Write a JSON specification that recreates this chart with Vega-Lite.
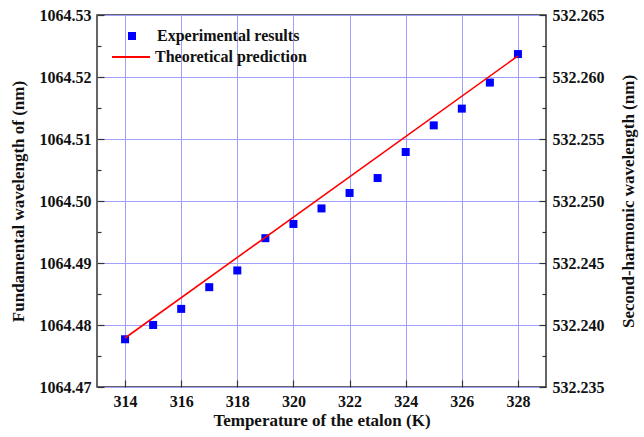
{
  "$schema": "https://vega.github.io/schema/vega-lite/v6.json",
  "width": 449,
  "height": 372,
  "autosize": {"type": "none"},
  "padding": {"left": 97, "top": 15, "right": 98, "bottom": 50},
  "background": "white",
  "config": {
    "view": {"stroke": "#333333", "strokeWidth": 1.5},
    "font": "Liberation Serif",
    "axis": {
      "labelFont": "Liberation Serif",
      "labelFontWeight": "bold",
      "labelFontSize": 16,
      "labelColor": "#111111",
      "titleFont": "Liberation Serif",
      "titleFontWeight": "bold",
      "titleFontSize": 17,
      "titleColor": "#111111",
      "domain": false,
      "tickColor": "#333333",
      "tickWidth": 1.2,
      "gridColor": "#a0a0ff",
      "gridWidth": 1
    },
    "legend": {
      "labelFont": "Liberation Serif",
      "labelFontWeight": "bold",
      "labelFontSize": 16,
      "labelColor": "#111111",
      "padding": 0
    }
  },
  "datasets": {
    "experimental": [
      {"temperature": 314, "wavelength": 1064.4777, "series": "Experimental results"},
      {"temperature": 315, "wavelength": 1064.4800, "series": "Experimental results"},
      {"temperature": 316, "wavelength": 1064.4826, "series": "Experimental results"},
      {"temperature": 317, "wavelength": 1064.4861, "series": "Experimental results"},
      {"temperature": 318, "wavelength": 1064.4888, "series": "Experimental results"},
      {"temperature": 319, "wavelength": 1064.4940, "series": "Experimental results"},
      {"temperature": 320, "wavelength": 1064.4963, "series": "Experimental results"},
      {"temperature": 321, "wavelength": 1064.4988, "series": "Experimental results"},
      {"temperature": 322, "wavelength": 1064.5013, "series": "Experimental results"},
      {"temperature": 323, "wavelength": 1064.5037, "series": "Experimental results"},
      {"temperature": 324, "wavelength": 1064.5079, "series": "Experimental results"},
      {"temperature": 325, "wavelength": 1064.5122, "series": "Experimental results"},
      {"temperature": 326, "wavelength": 1064.5149, "series": "Experimental results"},
      {"temperature": 327, "wavelength": 1064.5191, "series": "Experimental results"},
      {"temperature": 328, "wavelength": 1064.5237, "series": "Experimental results"}
    ],
    "theory": [
      {"temperature": 314, "wavelength": 1064.4779, "series": "Theoretical prediction"},
      {"temperature": 328, "wavelength": 1064.5234, "series": "Theoretical prediction"}
    ]
  },
  "layer": [
    {
      "data": {"name": "experimental"},
      "mark": {"type": "square", "size": 64, "opacity": 1, "filled": true},
      "encoding": {
        "x": {
          "field": "temperature",
          "type": "quantitative",
          "scale": {"domain": [313, 329], "nice": false, "zero": false},
          "axis": {
            "title": "Temperature of the etalon (K)",
            "values": [314, 315, 316, 317, 318, 319, 320, 321, 322, 323, 324, 325, 326, 327, 328],
            "labelExpr": "datum.value % 2 == 0 ? datum.label : ''",
            "grid": true,
            "gridOpacity": {"condition": {"test": "datum.value % 2 == 1", "value": 0}, "value": 1},
            "tickSize": {"condition": {"test": "datum.value % 2 == 1", "value": -4}, "value": -7},
            "labelPadding": 13,
            "titlePadding": 3
          }
        },
        "y": {
          "field": "wavelength",
          "type": "quantitative",
          "scale": {"domain": [1064.47, 1064.53], "nice": false, "zero": false},
          "axis": {
            "title": "Fundamental wavelength of (nm)",
            "values": [1064.47, 1064.475, 1064.48, 1064.485, 1064.49, 1064.495, 1064.5, 1064.505, 1064.51, 1064.515, 1064.52, 1064.525, 1064.53],
            "labelExpr": "round(datum.value * 1000) % 10 == 0 ? format(datum.value, '.2f') : ''",
            "grid": true,
            "gridOpacity": {"condition": {"test": "round(datum.value * 1000) % 10 != 0", "value": 0}, "value": 1},
            "tickSize": {"condition": {"test": "round(datum.value * 1000) % 10 != 0", "value": -4}, "value": -7},
            "labelPadding": 13,
            "titlePadding": 12
          }
        },
        "fill": {
          "field": "series",
          "type": "nominal",
          "scale": {"range": ["#0000ff"]},
          "legend": {
            "title": null,
            "orient": "none",
            "legendX": 27,
            "legendY": 13,
            "symbolType": "square",
            "symbolSize": 64,
            "labelOffset": 17
          }
        }
      }
    },
    {
      "data": {"name": "theory"},
      "mark": {"type": "line", "strokeWidth": 1.6},
      "encoding": {
        "x": {"field": "temperature", "type": "quantitative"},
        "y": {
          "field": "wavelength",
          "type": "quantitative",
          "axis": {
            "orient": "right",
            "title": "Second-harmonic wavelength (nm)",
            "titleAngle": 270,
            "values": [1064.47, 1064.475, 1064.48, 1064.485, 1064.49, 1064.495, 1064.5, 1064.505, 1064.51, 1064.515, 1064.52, 1064.525, 1064.53],
            "labelExpr": "round(datum.value * 1000) % 10 == 0 ? format(datum.value / 2, '.3f') : ''",
            "grid": false,
            "tickSize": {"condition": {"test": "round(datum.value * 1000) % 10 != 0", "value": -4}, "value": -7},
            "labelPadding": 13,
            "titlePadding": 33
          }
        },
        "stroke": {
          "field": "series",
          "type": "nominal",
          "scale": {"range": ["#ff0000"]},
          "legend": {
            "title": null,
            "orient": "none",
            "legendX": 14,
            "legendY": 22,
            "symbolType": "stroke",
            "symbolSize": 1444,
            "symbolStrokeWidth": 2,
            "labelOffset": 4
          }
        }
      }
    }
  ],
  "resolve": {
    "axis": {"y": "independent"},
    "legend": {"fill": "independent", "stroke": "independent"}
  }
}
